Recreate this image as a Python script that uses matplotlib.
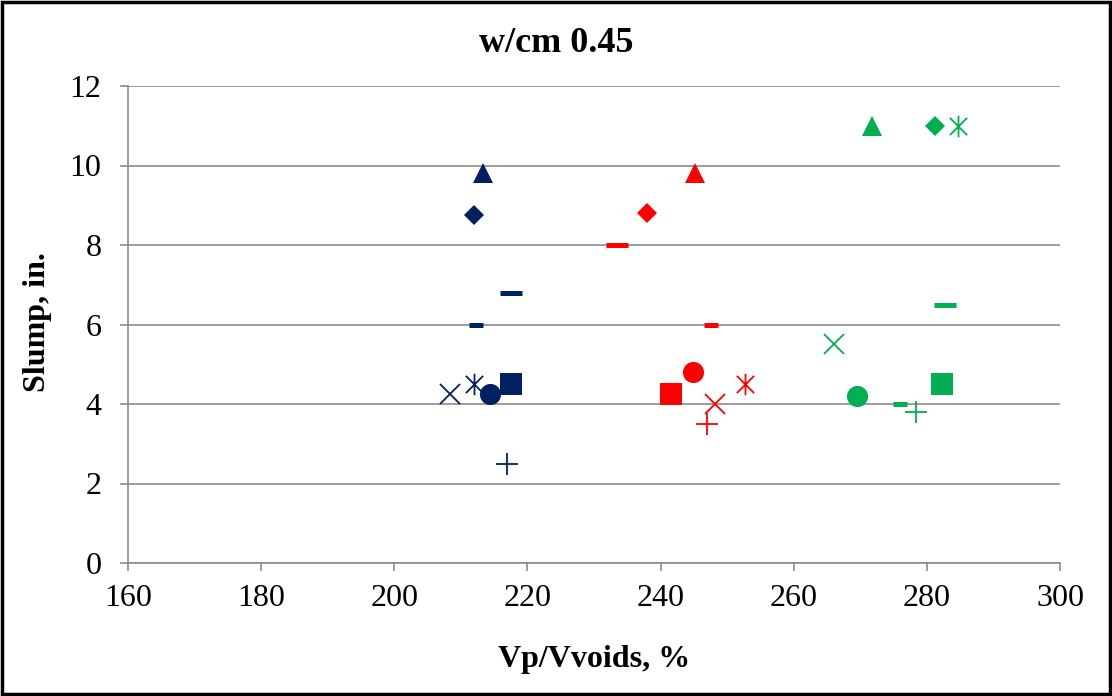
import numpy as np
import matplotlib.pyplot as plt
from matplotlib.path import Path
from matplotlib.patches import Rectangle

plt.rcParams['font.family'] = ['Liberation Serif', 'DejaVu Serif']

# %%
# data, one entry per marker type
marker_types = ['diamond', 'square', 'triangle', 'x', 'star', 'circle', 'plus', 'long dash', 'short dash']

navy_x = [212.0, 217.5, 213.3, 208.4, 211.9, 214.4, 216.9, 217.5, 212.3]
navy_y = [8.75, 4.5, 9.8, 4.25, 4.5, 4.25, 2.5, 6.8, 6.0]

red_x = [237.9, 241.6, 245.2, 248.2, 252.7, 244.8, 246.9, 233.4, 247.5]
red_y = [8.8, 4.25, 9.8, 4.0, 4.5, 4.8, 3.5, 8.0, 6.0]

green_x = [281.2, 282.2, 271.7, 266.0, 284.7, 269.5, 278.4, 282.8, 275.9]
green_y = [11.0, 4.5, 11.0, 5.5, 11.0, 4.2, 3.8, 6.5, 4.0]

groups = [(navy_x, navy_y, '#002060'), (red_x, red_y, '#FF0000'), (green_x, green_y, '#00B050')]

# %%
# excel style asterisk: x with a vertical bar
star = Path([(0, -1), (0, 1), (-0.8, -0.8), (0.8, 0.8), (-0.8, 0.8), (0.8, -0.8)],
            [Path.MOVETO, Path.LINETO] * 3)

styles = {
    'diamond': dict(marker='D', ms=10.5, mew=0),
    'square': dict(marker='s', ms=15.6, mew=0),
    'triangle': dict(marker='^', ms=15, mew=0),
    'x': dict(marker='x', ms=14.5, mew=1.3, mfc='none'),
    'star': dict(marker=star, ms=15.5, mew=1.3, mfc='none'),
    'circle': dict(marker='o', ms=15.2, mew=0),
    'plus': dict(marker='+', ms=15.5, mew=1.3),
    'long dash': dict(marker='_', ms=16.5, mew=3.6),
    'short dash': dict(marker='_', ms=9.5, mew=3.6),
}

# %%
fig = plt.figure(figsize=(11.12, 6.96), dpi=100)
ax = fig.add_axes([128/1112, 1 - 563/696, (1060-128)/1112, (563-86)/696])

for gx, gy, col in groups:
    for name, xv, yv in zip(marker_types, gx, gy):
        st = dict(styles[name])
        ax.plot([xv], [yv], linestyle='none', color=col, mec=col, **st)

ax.set_xlim(160, 300)
ax.set_ylim(0, 12)
ax.set_xticks(np.arange(160, 301, 20))
ax.set_yticks(np.arange(0, 13, 2))

grid_col = '#8c8c8c'
ax.grid(axis='y', color=grid_col, linewidth=1.2)
ax.set_axisbelow(True)
for s in ['top', 'right']:
    ax.spines[s].set_visible(False)
for s in ['left', 'bottom']:
    ax.spines[s].set_color(grid_col)
    ax.spines[s].set_linewidth(1.2)
ax.tick_params(axis='both', colors=grid_col, labelcolor='black', labelsize=23, length=6, width=1.2)
ax.tick_params(axis='y', pad=13)
ax.tick_params(axis='x', pad=9)

fig.text(0.5, 1 - 44/696, 'w/cm 0.45', ha='center', va='center', fontsize=26, fontweight='bold')
fig.text(37/1112, 1 - 322/696, 'Slump, in.', ha='center', va='center', rotation=90,
         fontsize=23, fontweight='bold')
fig.text(594/1112, 1 - 660/696, 'Vp/Vvoids, %', ha='center', va='center', fontsize=23, fontweight='bold')

# black frame round the chart
fig.patches.append(Rectangle((0.0015, 0.0025), 0.997, 0.995, transform=fig.transFigure,
                             fill=False, edgecolor='black', linewidth=2.5))

fig.savefig('out.png', dpi=100)
